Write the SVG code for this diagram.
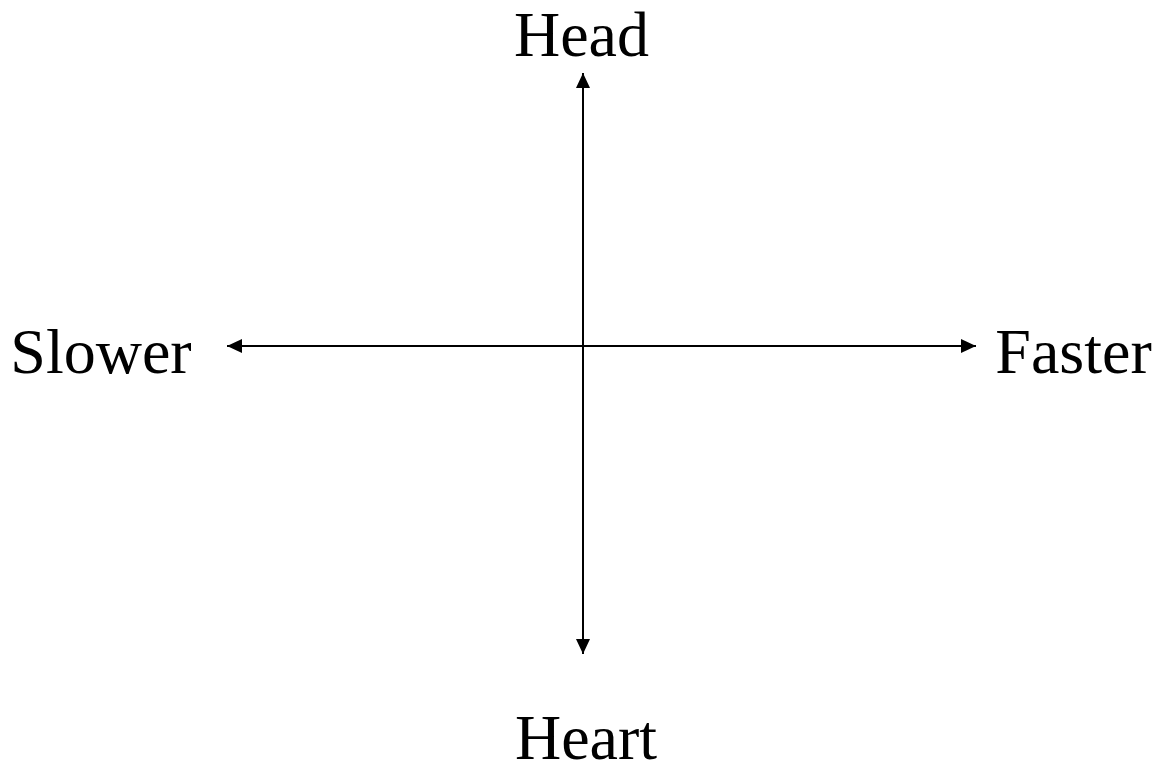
<svg xmlns="http://www.w3.org/2000/svg" width="1163" height="767" viewBox="0 0 1163 767">
<style>
.lbl{font-family:"Liberation Serif","Times New Roman",serif;font-size:64px;fill:#000}
.ax{stroke:#000;stroke-width:2;fill:none}
</style>
<defs>
<marker id="ah" viewBox="0 0 15 14" refX="15" refY="7" markerWidth="15" markerHeight="14" markerUnits="userSpaceOnUse" orient="auto-start-reverse">
<path d="M0,0 L15,7 L0,14 z" fill="#000"/>
</marker>
</defs>
<rect width="1163" height="767" fill="#fff"/>
<g id="connectors">
<line class="ax" x1="583" y1="73" x2="583" y2="654" marker-start="url(#ah)" marker-end="url(#ah)"/>
<line class="ax" x1="227" y1="346" x2="976" y2="346" marker-start="url(#ah)" marker-end="url(#ah)"/>
</g>
<g id="head"><text class="lbl" x="581.5" y="56" text-anchor="middle">Head</text></g>
<g id="heart"><text class="lbl" x="586" y="759" text-anchor="middle">Heart</text></g>
<g id="slower"><text class="lbl" x="101" y="373" text-anchor="middle">Slower</text></g>
<g id="faster"><text class="lbl" x="1073.5" y="373" text-anchor="middle">Faster</text></g>
</svg>
